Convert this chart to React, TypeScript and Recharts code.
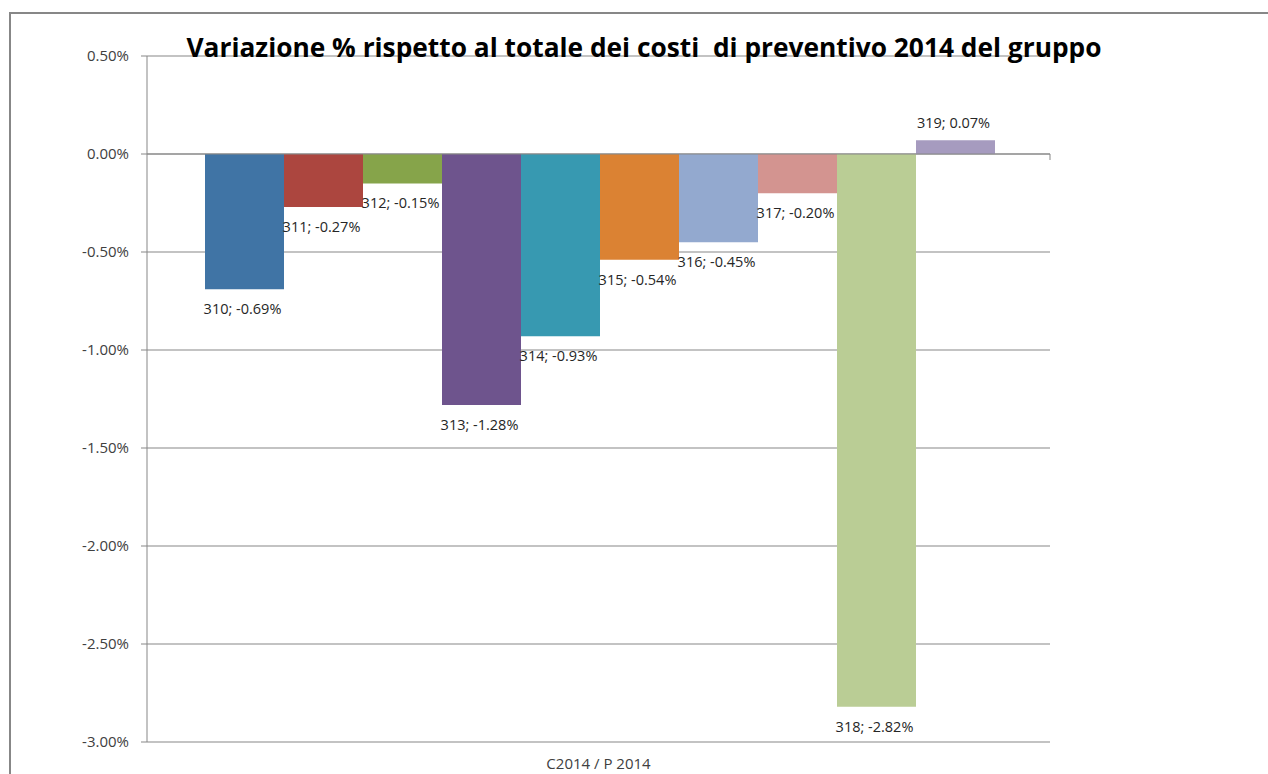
import { BarChart, Bar, XAxis, YAxis, CartesianGrid, ReferenceLine, LabelList } from "recharts";

// Single category, one series per cost centre
const categories = ["C2014 / P 2014"];
const seriesCodes = ["310", "311", "312", "313", "314", "315", "316", "317", "318", "319"];
const seriesValues = [-0.69, -0.27, -0.15, -1.28, -0.93, -0.54, -0.45, -0.2, -2.82, 0.07];
const seriesColors = [
  "#4074A5", "#AC463F", "#86A44A", "#6E548D", "#3799B1",
  "#DB8233", "#93A9CF", "#D39490", "#BACD95", "#A69BBF",
];
const yTicks = [-3, -2.5, -2, -1.5, -1, -0.5, 0, 0.5];

const FONT = "'Open Sans', 'Noto Sans', sans-serif";
const AXIS_GRAY = "#878787";

const chartData = categories.map((cat) => {
  const row: Record<string, string | number> = { cat };
  seriesCodes.forEach((code, i) => {
    row[code] = seriesValues[i];
  });
  return row;
});

const fmt = (v: number) => `${v.toFixed(2)}%`;

function makeLabel(code: string) {
  return (props: any) => {
    const { x, y, width, height, value } = props;
    const top = Math.min(y, y + height);
    const bottom = Math.max(y, y + height);
    const cx = x + width / 2;
    const ty = value < 0 ? bottom + 25 : top - 12;
    return (
      <text x={cx - 2} y={ty} textAnchor="middle" fontSize={14.5} fontFamily={FONT} fill="#262626">
        {`${code}; ${fmt(value)}`}
      </text>
    );
  };
}

const EndTick = (props: any) => {
  const vb = props.viewBox;
  if (!vb) return null;
  const xr = vb.x + vb.width;
  return <line x1={xr} y1={vb.y} x2={xr} y2={vb.y + 6} stroke={AXIS_GRAY} />;
};

const CatTick = (props: any) => {
  const { x, y, payload } = props;
  return (
    <text x={x} y={y + 19} textAnchor="middle" fontSize={15} fontFamily={FONT} fill="#404040">
      {payload.value}
    </text>
  );
};

const ValTick = (props: any) => {
  const { x, y, payload } = props;
  return (
    <text x={x - 10} y={y + 5} textAnchor="end" fontSize={15} fontFamily={FONT} fill="#404040">
      {fmt(payload.value)}
    </text>
  );
};

export default function App() {
  return (
    <div style={{ position: "absolute", left: 0, top: 0, width: 1268, height: 774, overflow: "hidden", background: "#fff" }}>
      <div
        style={{
          position: "absolute",
          left: 9,
          top: 12,
          width: 1400,
          height: 900,
          borderLeft: `2px solid ${AXIS_GRAY}`,
          borderTop: `2px solid ${AXIS_GRAY}`,
          boxSizing: "border-box",
        }}
      />
      <div style={{ position: "absolute", left: 0, top: 0 }}>
        <BarChart
          width={1268}
          height={774}
          data={chartData}
          margin={{ top: 56, right: 218, bottom: 0, left: 0 }}
          barCategoryGap={58}
          barGap={0}
        >
          <CartesianGrid vertical={false} stroke={AXIS_GRAY} />
          <XAxis dataKey="cat" axisLine={false} tickLine={false} height={32} tick={<CatTick />} />
          <YAxis
            width={147}
            domain={[-3, 0.5]}
            ticks={yTicks}
            axisLine={{ stroke: AXIS_GRAY }}
            tickLine={{ stroke: AXIS_GRAY }}
            tickSize={6}
            tick={<ValTick />}
          />
          {seriesCodes.map((code, i) => (
            <Bar key={code} dataKey={code} fill={seriesColors[i]} isAnimationActive={false}>
              <LabelList dataKey={code} content={makeLabel(code)} />
            </Bar>
          ))}
          <ReferenceLine y={0} stroke={AXIS_GRAY} label={<EndTick />} />
          <text
            x={644}
            y={57}
            textAnchor="middle"
            fontSize={26.3}
            fontWeight="bold"
            fontFamily={FONT}
            fill="#000"
            style={{ whiteSpace: "pre" }}
          >
            {"Variazione % rispetto al totale dei costi  di preventivo 2014 del gruppo"}
          </text>
        </BarChart>
      </div>
    </div>
  );
}
